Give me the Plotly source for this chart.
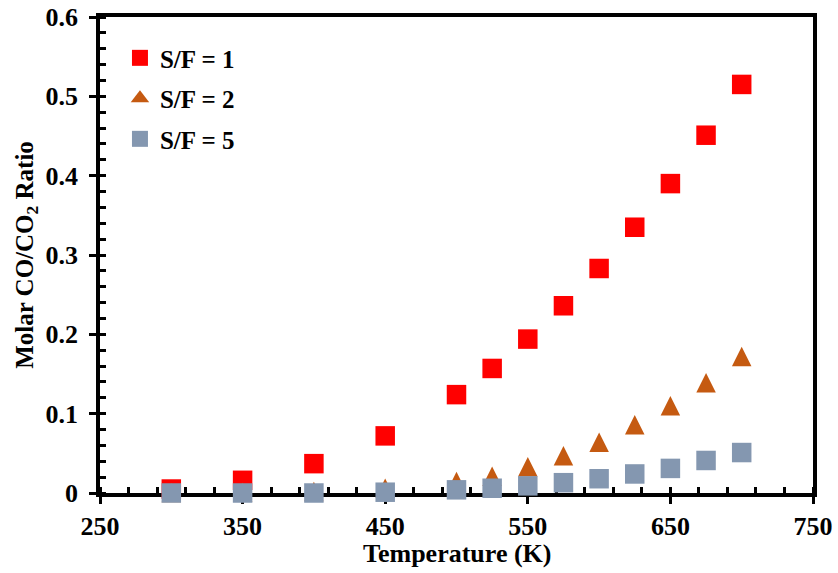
import plotly.graph_objects as go

# Temperature grid (K)
temperature = [300, 350, 400, 450, 500, 525, 550, 575, 600, 625, 650, 675, 700]

# Molar CO/CO2 ratio for each steam-to-feed ratio
ratio_sf1 = [0.005, 0.016, 0.037, 0.072, 0.124, 0.157, 0.194, 0.236, 0.283, 0.335, 0.390, 0.451, 0.515]
ratio_sf2 = [0.0005, 0.001, 0.002, 0.006, 0.0145, 0.021, 0.033, 0.047, 0.064, 0.086, 0.110, 0.139, 0.172]
ratio_sf5 = [0.0, 0.0, 0.0, 0.001, 0.004, 0.006, 0.009, 0.013, 0.018, 0.024, 0.031, 0.041, 0.051]

series_names = ["S/F = 1", "S/F = 2", "S/F = 5"]
colors = ["#FF0000", "#C55A11", "#8497B0"]
x_title = "Temperature (K)"
y_title = "Molar CO/CO<sub>2</sub> Ratio"

FONT = "Liberation Serif"
MS = 19.5

fig = go.Figure()

fig.add_trace(go.Scatter(
    x=temperature, y=ratio_sf1, mode="markers", name=series_names[0],
    legendgroup="a",
    marker=dict(symbol="square", size=MS, color=colors[0], line=dict(width=0)),
    cliponaxis=False,
))
# isosceles triangle (width = height), centred on the point
fig.add_trace(go.Scatter(
    x=temperature, y=ratio_sf2, mode="markers", name=series_names[1],
    legendgroup="b", showlegend=False,
    marker=dict(symbol="arrow-down", size=MS, angle=180, standoff=MS / 2,
                color=colors[1], line=dict(width=0)),
    cliponaxis=False,
))
# legend key for the triangle series
fig.add_trace(go.Scatter(
    x=[None], y=[None], mode="markers", name=series_names[1],
    legendgroup="b",
    marker=dict(symbol="triangle-up", size=16, color=colors[1], line=dict(width=0)),
))
fig.add_trace(go.Scatter(
    x=temperature, y=ratio_sf5, mode="markers", name=series_names[2],
    legendgroup="c",
    marker=dict(symbol="square", size=MS, color=colors[2], line=dict(width=0)),
    cliponaxis=False,
))

tickfont = dict(family=FONT, size=26, color="black", weight="bold")

fig.update_layout(
    width=838, height=573,
    margin=dict(l=100, r=25, t=17, b=80),
    plot_bgcolor="white", paper_bgcolor="white",
    font=dict(family=FONT, color="black", weight="bold"),
    showlegend=True,
    legend=dict(
        x=0.028, y=0.962, xanchor="left", yanchor="top",
        bgcolor="rgba(0,0,0,0)", borderwidth=0,
        font=dict(family=FONT, size=25, color="black", weight="bold"),
        tracegroupgap=5, itemsizing="trace",
    ),
    xaxis=dict(
        range=[250, 750], tickmode="linear", tick0=250, dtick=100,
        showgrid=False, zeroline=False, automargin=False,
        showline=True, linecolor="black", linewidth=3.5, mirror=True,
        ticks="outside", ticklen=7, tickwidth=3, tickcolor="black",
        minor=dict(tick0=250, dtick=20, ticks="inside", ticklen=6,
                   tickwidth=3, tickcolor="black", showgrid=False),
        tickfont=tickfont, layer="below traces",
    ),
    yaxis=dict(
        range=[0, 0.6], tickmode="linear", tick0=0, dtick=0.1,
        showgrid=False, zeroline=False, automargin=False,
        showline=True, linecolor="black", linewidth=3.5, mirror=True,
        ticks="outside", ticklen=7, tickwidth=3, tickcolor="black",
        minor=dict(tick0=0, dtick=0.02, ticks="inside", ticklen=6,
                   tickwidth=3, tickcolor="black", showgrid=False),
        tickfont=tickfont, layer="below traces",
        tickformat="~g", ticklabelstandoff=6,
        title=dict(text=y_title, standoff=6,
                   font=dict(family=FONT, size=25, color="black", weight="bold")),
    ),
    # inner halves of the major ticks
    xaxis2=dict(
        overlaying="x", anchor="y", side="bottom", matches="x",
        range=[250, 750], tickmode="linear", tick0=250, dtick=100,
        showgrid=False, zeroline=False, showline=False, showticklabels=False,
        ticks="inside", ticklen=6, tickwidth=3, tickcolor="black",
        layer="below traces", automargin=False,
    ),
    yaxis2=dict(
        overlaying="y", anchor="x", side="left", matches="y",
        range=[0, 0.6], tickmode="linear", tick0=0, dtick=0.1,
        showgrid=False, zeroline=False, showline=False, showticklabels=False,
        ticks="inside", ticklen=6, tickwidth=3, tickcolor="black",
        layer="below traces", automargin=False,
    ),
    # x-axis title sits tight under the tick labels
    annotations=[dict(
        text=x_title, xref="paper", yref="paper", x=0.5, y=-0.128,
        xanchor="center", yanchor="middle", showarrow=False,
        font=dict(family=FONT, size=26, color="black", weight="bold"),
    )],
)

fig.write_html("out.html")
